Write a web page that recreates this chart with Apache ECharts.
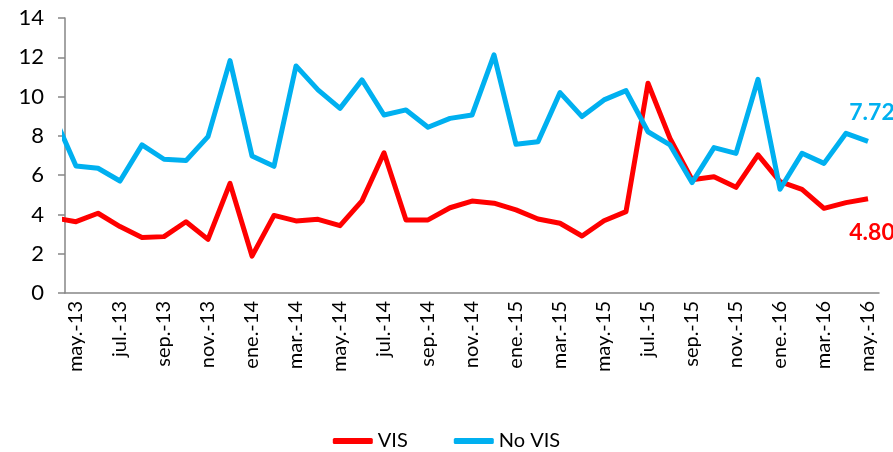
<!DOCTYPE html>
<html lang="es">
<head>
    <meta charset="UTF-8">
    <title>VIS / No VIS</title>
    <style>
        body{
            margin: 0;
            background-color: #fff;
        }
    </style>
    <script src="https://cdn.jsdelivr.net/npm/echarts@6/dist/echarts.min.js"></script>
</head>
<body>
<div id="main" style="width: 893px;height:452px;"></div>
<script type="text/javascript">
    // meses (abr.-13 solo sirve para el tramo que entra cortado por la izquierda)
    var months = ['abr.-13','may.-13','jun.-13','jul.-13','ago.-13','sep.-13','oct.-13','nov.-13','dic.-13',
        'ene.-14','feb.-14','mar.-14','abr.-14','may.-14','jun.-14','jul.-14','ago.-14','sep.-14','oct.-14','nov.-14','dic.-14',
        'ene.-15','feb.-15','mar.-15','abr.-15','may.-15','jun.-15','jul.-15','ago.-15','sep.-15','oct.-15','nov.-15','dic.-15',
        'ene.-16','feb.-16','mar.-16','abr.-16','may.-16'];

    var vis = [3.83, 3.63, 4.06, 3.38, 2.83, 2.87, 3.63, 2.73, 5.58,
        1.88, 3.95, 3.67, 3.75, 3.43, 4.69, 7.14, 3.72, 3.72, 4.34, 4.68, 4.57,
        4.23, 3.77, 3.55, 2.90, 3.68, 4.14, 10.68, 7.87, 5.77, 5.92, 5.38, 7.03,
        5.67, 5.28, 4.31, 4.60, 4.80];

    var noVis = [9.0, 6.47, 6.35, 5.70, 7.54, 6.81, 6.74, 7.96, 11.83,
        6.98, 6.45, 11.56, 10.34, 9.40, 10.85, 9.06, 9.32, 8.44, 8.89, 9.06, 12.12,
        7.57, 7.70, 10.20, 8.98, 9.83, 10.30, 8.21, 7.54, 5.62, 7.40, 7.11, 10.88,
        5.28, 7.11, 6.60, 8.13, 7.72];

    var yTicks = [0, 2, 4, 6, 8, 10, 12, 14];

    var font = 'Lato, "Noto Sans", sans-serif';
    var axisGrey = '#868686';

    // etiquetas y marcas cada dos meses: may, jul, sep, nov, ene, mar
    function everyOther(idx){
        return idx % 2 === 1;
    }

    function endLabel(color, dy){
        return {
            show: true,
            color: color,
            fontFamily: font,
            fontSize: 23,
            fontWeight: 'bold',
            align: 'center',
            verticalAlign: 'middle',
            distance: 0,
            offset: [4, dy],
            formatter: function(p){ return p.value.toFixed(2); }
        };
    }

    var myChart = echarts.init(document.getElementById('main'));

    var option = {
        animation: false,
        textStyle: { fontFamily: font },
        grid: {
            left: 65,
            right: 14,
            top: 18,
            bottom: 159,
            containLabel: false
        },
        legend: {
            top: 426,
            left: 'center',
            icon: 'roundRect',
            itemWidth: 40,
            itemHeight: 6,
            itemGap: 46,
            textStyle: { fontSize: 20, color: '#000', fontFamily: font },
            data: ['VIS', 'No VIS']
        },
        xAxis: {
            type: 'category',
            data: months,
            min: 1,
            boundaryGap: true,
            axisLine: { lineStyle: { color: axisGrey, width: 1.5 } },
            axisTick: { interval: everyOther, length: 8, lineStyle: { color: axisGrey, width: 1.5 } },
            axisLabel: {
                interval: everyOther,
                rotate: 90,
                margin: 8,
                fontSize: 20,
                color: '#000'
            },
            splitLine: { show: false }
        },
        yAxis: {
            type: 'value',
            min: yTicks[0],
            max: yTicks[yTicks.length - 1],
            interval: 2,
            axisLine: { show: true, lineStyle: { color: axisGrey, width: 1.5 } },
            axisTick: { show: true, length: 7, lineStyle: { color: axisGrey, width: 1.5 } },
            axisLabel: { fontSize: 22, color: '#000', margin: 21 },
            splitLine: { show: false }
        },
        series: [{
            name: 'VIS',
            type: 'line',
            symbol: 'none',
            color: '#ff0000',
            lineStyle: { width: 5, color: '#ff0000', join: 'round' },
            endLabel: endLabel('#ff0000', 34),
            data: vis
        }, {
            name: 'No VIS',
            type: 'line',
            symbol: 'none',
            color: '#00b0f0',
            lineStyle: { width: 5, color: '#00b0f0', join: 'round' },
            endLabel: endLabel('#00b0f0', -29),
            data: noVis
        }]
    };

    myChart.setOption(option);
</script>
</body>
</html>
